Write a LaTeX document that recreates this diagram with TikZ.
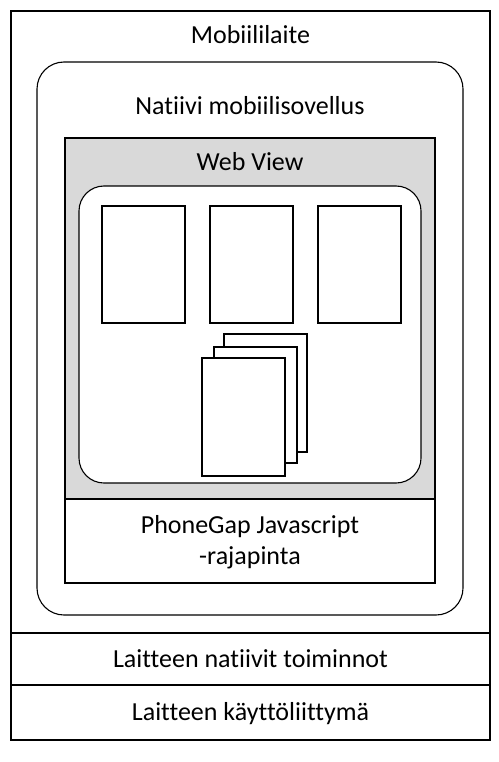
\documentclass[tikz,border=0pt]{standalone}
\usepackage{fontspec}
\setmainfont{Carlito}[Ligatures={NoCommon}]
\usetikzlibrary{positioning}

\begin{document}
\begin{tikzpicture}[x=1pt,y=-1pt,line width=1.1pt,
  lbl/.style={font=\fontsize{26}{31}\selectfont,align=center,inner sep=0pt}]
\useasboundingbox (0,0) rectangle (498,762);
% laite
\draw[fill=white] (11,11) rectangle (490,740);
\draw (11,633) -- (490,633);
\draw (11,685) -- (490,685);
\node[lbl] (laite) at (250.5,35) {Mobiililaite};
\node[lbl] (toiminnot) at (250.5,659) {Laitteen natiivit toiminnot};
\node[lbl] (kali) at (250.5,714) {Laitteen käyttöliittymä};
% sovellus
\draw[rounded corners=27pt] (37,62) rectangle (463,615);
\node[lbl] (sovellus) at (250,106) {Natiivi mobiilisovellus};
% web view
\draw[fill=gray!30] (65,138) rectangle (435,499);
\draw[fill=white] (65,499) rectangle (435,583);
\node[lbl] (webview) at (250,162) {Web View};
\node[lbl] (api) at (250,542) {PhoneGap Javascript\\-rajapinta};
\draw[fill=white,rounded corners=25pt] (79,186) rectangle (421,483);
% sivut
\foreach \x in {102,210,318}
  \draw[fill=white] (\x,206) rectangle +(83,117);
\draw[fill=white] (224,334) rectangle (307,452);
\draw[fill=white] (214,347) rectangle (297,463);
\draw[fill=white] (202,358) rectangle (285,476);
\end{tikzpicture}
\end{document}
